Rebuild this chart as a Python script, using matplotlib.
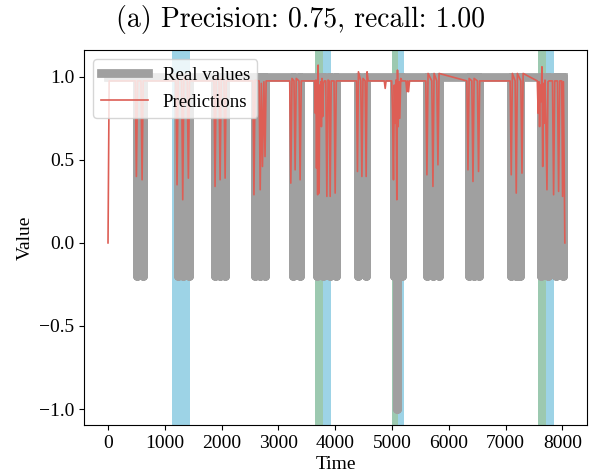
"""
Anomaly detection result plot: real values vs. model predictions,
with predicted (blue) and true (green) anomaly windows shaded.
"""

import matplotlib
matplotlib.use("Agg")
import matplotlib.pyplot as plt


# ── Data ──────────────────────────────────────────────────────────────────────

# times where the real signal dips down (it sits at 1.0 everywhere else)
REAL_DIPS = [
    [507, 613],
    [1230, 1327, 1424],
    [1889, 1977, 2065],
    [2594, 2676, 2758],
    [3251, 3374],
    [3686, 3794, 3901, 4009],
    [4402, 4537],
    [5036, 5092, 5172],
    [5618, 5724, 5829],
    [6352, 6441, 6529],
    [7105, 7184, 7263],
    [7626, 7755, 7885, 8020],
]
REAL_HIGH = 1.0
REAL_LOW = -0.2
REAL_MIN_T = 5092      # the one dip that reaches the bottom
REAL_MIN_V = -1.0
REAL_START = 0
REAL_END = 8020

PRED_T = [
    0, 20,
    480, 500, 520, 580, 600, 620,
    1195, 1216, 1235, 1296, 1316, 1336, 1395, 1415, 1435,
    1865, 1885, 1905, 1954, 1974, 1994, 2042, 2062, 2082,
    2550, 2570, 2590, 2660, 2680, 2700, 2720, 2745, 2765, 2785,
    3200, 3219, 3240, 3275, 3295, 3315, 3363, 3383, 3403,
    3640, 3652, 3662, 3672, 3682, 3692, 3700, 3708, 3718, 3728, 3738, 3748, 3758,
    3768, 3780, 3795, 3810, 3835, 3854, 3875, 3895, 3912, 3930, 3980, 4000, 4020,
    4375, 4393, 4410, 4451, 4471, 4490, 4528, 4546, 4562, 4580,
    4865, 4881, 4897,
    4995, 5010, 5027, 5042, 5056, 5070, 5086, 5098, 5110, 5124, 5138, 5155, 5175,
    5245, 5263, 5278, 5292, 5310,
    5596, 5616, 5636, 5702, 5722, 5742, 5790, 5810, 5830,
    6319, 6339, 6359, 6407, 6427, 6447, 6505, 6525, 6545,
    7081, 7101, 7121, 7169, 7189, 7209, 7270, 7290, 7310,
    7560, 7575, 7588, 7600, 7612, 7625, 7642, 7655, 7668, 7680, 7695, 7710, 7730,
    7748, 7765, 7827, 7847, 7867, 7915, 7935, 7955, 7990, 8005, 8020, 8045,
]
PRED_V = [
    0.0, 0.975,
    0.975, 0.40, 0.975, 0.975, 0.38, 0.975,
    0.975, 0.35, 0.99, 0.975, 0.26, 0.99, 0.975, 0.39, 0.975,
    0.975, 0.34, 0.99, 0.975, 0.38, 0.99, 0.975, 0.39, 0.975,
    0.975, 0.29, 0.98, 0.975, 0.32, 0.96, 0.46, 0.97, 0.52, 0.975,
    0.975, 0.36, 0.99, 0.975, 0.44, 0.99, 0.975, 0.38, 0.975,
    0.975, 0.78, 0.98, 0.45, 0.92, 0.29, 1.07, 0.72, 0.30, 0.95, 0.74, 0.97, 0.70,
    0.99, 0.76, 0.96, 0.975, 0.975, 0.28, 0.98, 0.975, 0.28, 0.975, 0.975, 0.30, 0.975,
    0.975, 0.43, 1.03, 0.975, 0.40, 0.99, 0.975, 0.40, 1.03, 0.975,
    0.975, 0.93, 0.975,
    0.975, 0.80, 0.38, 0.95, 0.72, 0.98, 0.26, 1.04, 0.70, 0.97, 0.75, 0.99, 0.975,
    0.975, 0.91, 0.975, 0.91, 0.975,
    0.975, 0.41, 1.02, 0.975, 0.34, 1.02, 0.975, 0.47, 1.02,
    0.975, 0.44, 0.99, 0.975, 0.37, 0.99, 0.975, 0.43, 0.975,
    0.975, 0.41, 1.02, 0.975, 0.30, 1.02, 0.975, 0.42, 1.02,
    0.975, 0.78, 0.97, 0.70, 0.95, 0.85, 1.06, 0.46, 0.96, 0.72, 0.98, 0.75, 0.32,
    0.97, 0.975, 0.975, 0.29, 0.975, 0.975, 0.31, 0.975, 0.975, 0.28, 0.97, 0.0,
]

# anomaly windows: flagged by the model / ground truth
PREDICTED_SPANS = [(1122, 1445), (3642, 3924), (5004, 5215), (7565, 7859)]
TRUE_SPANS = [(3642, 3783), (5004, 5110), (7565, 7712)]

TITLE = "(a) Precision: 0.75, recall: 1.00"


# ── Helpers ───────────────────────────────────────────────────────────────────

def build_real_series():
    """Turn the dip times into a drawable line (down and back up at each dip)."""
    t, v = [REAL_START], [REAL_HIGH]
    for block in REAL_DIPS:
        for d in block:
            low = REAL_MIN_V if d == REAL_MIN_T else REAL_LOW
            t += [d, d, d]
            v += [REAL_HIGH, low, REAL_HIGH]
    t.append(REAL_END)
    v.append(REAL_HIGH)
    return t, v


# ── Plot ──────────────────────────────────────────────────────────────────────

def plot_results():
    assert len(PRED_T) == len(PRED_V)
    plt.rcParams["font.family"] = ["Liberation Serif", "DejaVu Serif"]
    plt.rcParams["font.size"] = 14

    fig = plt.figure(figsize=(5.89, 4.75), dpi=100)
    ax = fig.add_axes([0.1426, 0.1053, 0.854, 0.7894])

    for a, b in PREDICTED_SPANS:
        ax.axvspan(a, b, color="#9dd3e6", lw=0, zorder=0)
    for a, b in TRUE_SPANS:
        ax.axvspan(a, b, color="#9cc9b0", lw=0, zorder=0.5)

    real_t, real_v = build_real_series()
    ax.plot(real_t, real_v, color="#a0a0a0", lw=6.3, label="Real values", zorder=2)
    ax.plot(PRED_T, PRED_V, color="#dd5e55", lw=1.2, label="Predictions", zorder=3)

    ax.set_xlim(-423, 8435)
    ax.set_ylim(-1.096, 1.161)
    ax.set_xticks(range(0, 8001, 1000))
    ax.set_yticks([-1.0, -0.5, 0.0, 0.5, 1.0])
    ax.set_xlabel("Time", labelpad=3)
    ax.set_ylabel("Value")
    ax.legend(loc="upper left", handlelength=2.5, fontsize=13.5)

    fig.text(0.511, 0.958, TITLE, ha="center", va="center",
             fontfamily="cmr10", fontsize=20)

    fig.savefig("out.png", dpi=100)


if __name__ == "__main__":
    plot_results()
